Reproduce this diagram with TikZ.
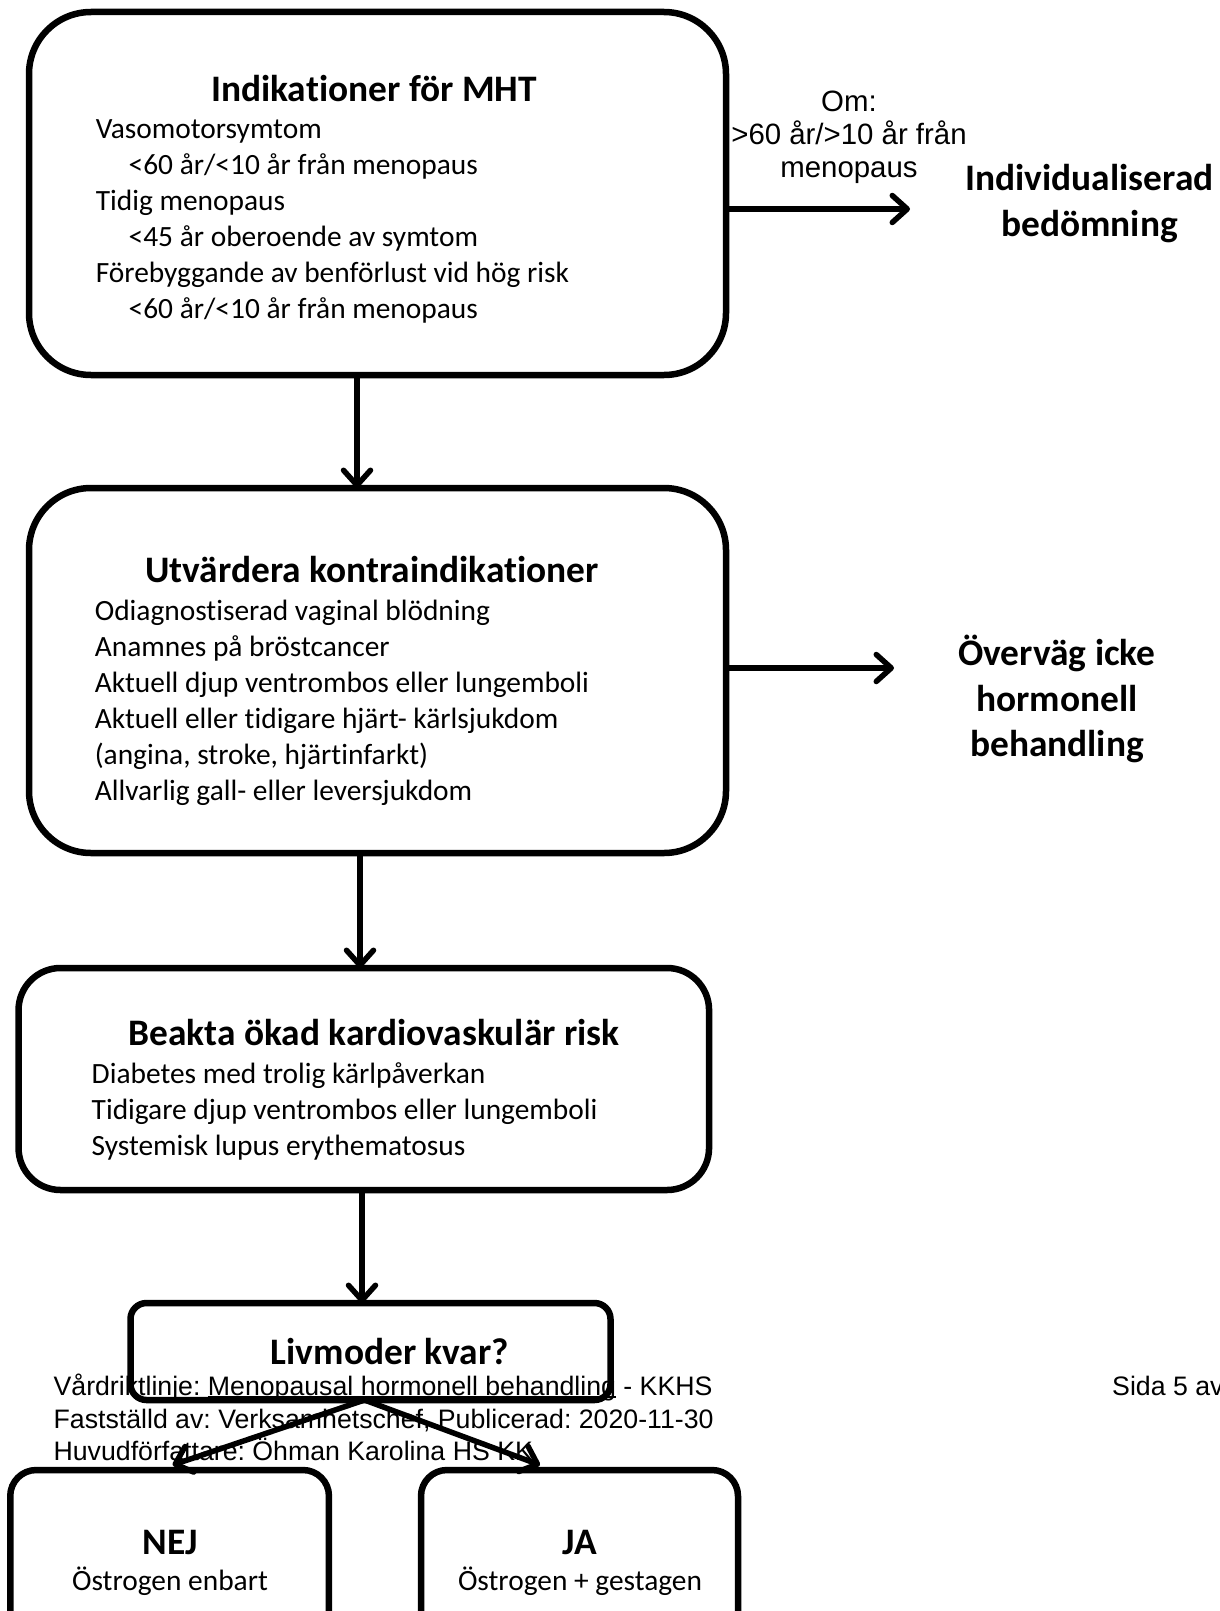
\documentclass[tikz,border=0pt]{standalone}
\usepackage{fontspec}
\setmainfont{Carlito}[Ligatures=NoCommon]
\newfontfamily\arialf{Liberation Sans}
\usetikzlibrary{arrows.meta,calc}
\newcommand\footul[1]{\setbox0=\hbox{#1}\rlap{\rule[-2.8pt]{\wd0}{1.9pt}}\box0\relax}
\frenchspacing
\begin{document}
\begin{tikzpicture}[x=1pt,y=-1pt,
  box/.style={draw, line width=6.5pt, inner sep=0pt, outer sep=0pt},
  arr/.style={line width=5.5pt, line cap=round, -{Straight Barb[length=15pt,width=27pt,round]}},
  body/.style={font=\fontsize{29.4}{36}\selectfont, anchor=base west, inner sep=0pt},
  ttl/.style={font=\bfseries\fontsize{37.4}{45.6}\selectfont, anchor=base, inner sep=0pt},
  side/.style={font=\bfseries\fontsize{37.4}{45.6}\selectfont, anchor=base, inner sep=0pt},
  arl/.style={font=\arialf\fontsize{29.4}{33}\selectfont, anchor=base, inner sep=0pt},
  foot/.style={font=\arialf\fontsize{26.7}{32}\selectfont, anchor=base west, inner sep=0pt}]
\useasboundingbox (0,0) rectangle (1220,1611);
\fill[white] (0,0) rectangle (1220,1611);
\clip (0,0) rectangle (1220,1611);

% footer (under the drawing)
\node[foot] (f1) at (53.4,1395) {Vårdriktlinje: \footul{Menopausal hormonell behandling} - KKHS};
\node[foot] (f2) at (53.4,1428) {Fastställd av: Verksamhetschef, Publicerad: 2020-11-30};
\node[foot] (f3) at (53.4,1460) {Huvudförfattare: Öhman Karolina HS KK};
\node[foot] (f4) at (1112,1395) {Sida 5 av};

% box 1
\node[box, rounded corners=62pt, minimum width=697pt, minimum height=363pt] (b1) at (377.5,193.5) {};
\node[ttl] (t1) at (374,101) {Indikationer för MHT};
\node[body] (l11) at (95.6,138) {Vasomotorsymtom};
\node[body] (l12) at (128.5,174) {<60 år/<10 år från menopaus};
\node[body] (l13) at (95.6,210) {Tidig menopaus};
\node[body] (l14) at (128.5,246) {<45 år oberoende av symtom};
\node[body] (l15) at (95.6,282) {Förebyggande av benförlust vid hög risk};
\node[body] (l16) at (128.5,318) {<60 år/<10 år från menopaus};

% side 1
\node[arl] (o1) at (849,111) {Om:};
\node[arl] (o2) at (849,144) {>60 år/>10 år från};
\node[arl] (o3) at (849,177) {menopaus};
\node[side] (s11) at (1089.5,190) {Individualiserad};
\node[side] (s12) at (1089.5,236) {bedömning};
\coordinate (e1) at (910,209);
\draw[arr] (b1.east |- e1) -- (e1);

% box 2
\node[box, rounded corners=62pt, minimum width=697pt, minimum height=365pt] (b2) at (377.5,670.5) {};
\node[ttl] (t2) at (372,582) {Utvärdera kontraindikationer};
\node[body] (l21) at (94.6,620) {Odiagnostiserad vaginal blödning};
\node[body] (l22) at (94.6,656) {Anamnes på bröstcancer};
\node[body] (l23) at (94.6,692) {Aktuell djup ventrombos eller lungemboli};
\node[body] (l24) at (94.6,728) {Aktuell eller tidigare hjärt- kärlsjukdom};
\node[body] (l25) at (94.6,764) {(angina, stroke, hjärtinfarkt)};
\node[body] (l26) at (94.6,800) {Allvarlig gall- eller leversjukdom};

% side 2
\node[side] (s21) at (1057,665) {Överväg icke};
\node[side] (s22) at (1057,711) {hormonell};
\node[side] (s23) at (1057,756) {behandling};
\coordinate (e2) at (894,668);
\draw[arr] (b2.east |- e2) -- (e2);

% box 3
\node[box, rounded corners=42pt, minimum width=690.5pt, minimum height=222pt] (b3) at (363.8,1079) {};
\node[ttl] (t3) at (374,1045) {Beakta ökad kardiovaskulär risk};
\node[body] (l31) at (91.5,1083) {Diabetes med trolig kärlpåverkan};
\node[body] (l32) at (91.5,1119) {Tidigare djup ventrombos eller lungemboli};
\node[body] (l33) at (91.5,1155) {Systemisk lupus erythematosus};

% box 4
\node[box, rounded corners=16pt, minimum width=480pt, minimum height=97pt] (b4) at (370.5,1351.5) {};
\node[ttl] (t4) at (390,1364) {Livmoder kvar?};

% bottom boxes
\node[box, rounded corners=26pt, minimum width=318.7pt, minimum height=190pt] (nej) at (169.6,1565) {};
\node[ttl] (tn) at (170,1554) {NEJ};
\node[body, anchor=base] (ln) at (170,1590) {Östrogen enbart};
\node[box, rounded corners=26pt, minimum width=317pt, minimum height=190pt] (ja) at (579.5,1565) {};
\node[ttl] (tj) at (580,1554) {JA};
\node[body, anchor=base] (lj) at (580,1590) {Östrogen + gestagen};

% vertical connectors
\draw[arr] ([xshift=-20.5pt]b1.south) -- ([xshift=-20.5pt]b2.north);
\draw[arr] ([xshift=-17.5pt]b2.south) -- ([xshift=-3.8pt]b3.north);
\draw[arr] ([xshift=-1.8pt]b3.south) -- ([xshift=-8.5pt]b4.north);
\draw[arr] ([xshift=-6pt]b4.south) -- ([xshift=3pt,yshift=5pt]nej.north);
\draw[arr] ([xshift=-6pt]b4.south) -- ([xshift=-39.5pt,yshift=5pt]ja.north);
\end{tikzpicture}
\end{document}
